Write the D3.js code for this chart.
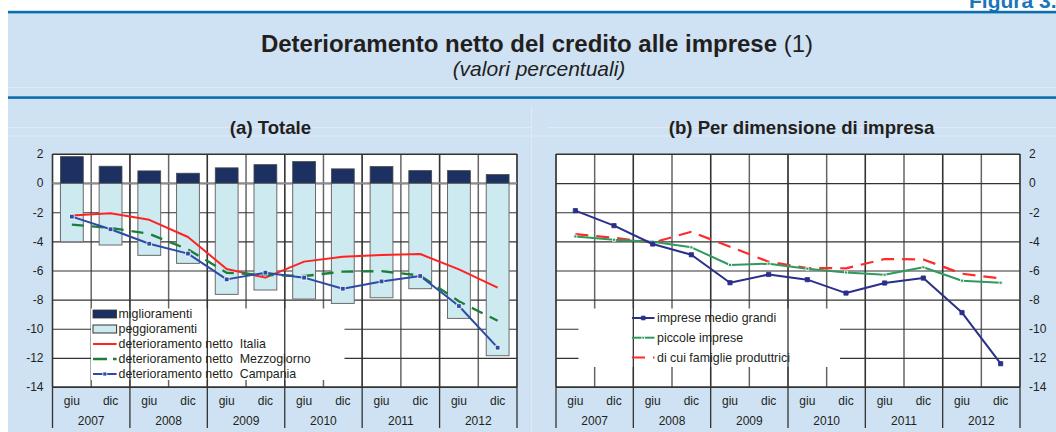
<!DOCTYPE html>
<html>
<head>
<meta charset="utf-8">
<script src="https://cdn.jsdelivr.net/npm/d3@7"></script>
<style>
  body { margin: 0; background: #fff; }
  svg { display: block; font-family: "Liberation Sans", Arial, sans-serif; }
</style>
</head>
<body>
<div id="chart"></div>
<script>
// --- data ---
var months = ["giu", "dic"];
var years = ["2007", "2008", "2009", "2010", "2011", "2012"];
var yTicks = [2, 0, -2, -4, -6, -8, -10, -12, -14];

// (a) Totale
var miglioramenti = [1.82, 1.16, 0.84, 0.68, 1.05, 1.27, 1.48, 0.98, 1.14, 0.86, 0.86, 0.59];
var peggioramenti = [-4.03, -4.25, -4.96, -5.51, -7.64, -7.34, -7.96, -8.26, -7.87, -7.25, -9.29, -11.85];
var italia = [-2.23, -2.07, -2.52, -3.70, -5.90, -6.49, -5.39, -5.05, -4.94, -4.87, -5.92, -7.18];
var mezzogiorno = [-2.85, -3.08, -3.48, -4.55, -6.15, -6.30, -6.38, -6.08, -6.04, -6.35, -8.12, -9.45];
var campania = [-2.30, -3.17, -4.16, -4.84, -6.61, -6.15, -6.49, -7.25, -6.75, -6.38, -8.44, -11.30];
var legendA = ["miglioramenti", "peggioramenti", "deterioramento netto  Italia",
               "deterioramento netto  Mezzogiorno", "deterioramento netto  Campania"];

// (b) Per dimensione di impresa
var medioGrandi = [-1.89, -2.92, -4.18, -4.92, -6.84, -6.27, -6.63, -7.55, -6.86, -6.52, -8.89, -12.40];
var piccole = [-3.66, -3.89, -4.02, -4.41, -5.62, -5.53, -5.88, -6.13, -6.29, -5.78, -6.70, -6.84];
var famiglie = [-3.50, -3.75, -4.09, -3.34, -4.37, -5.40, -5.83, -5.85, -5.21, -5.24, -6.22, -6.54];
var legendB = ["imprese medio grandi", "piccole imprese", "di cui famiglie produttrici"];

var periods = [];
years.forEach(function(y) { months.forEach(function(m) { periods.push(m + " " + y); }); });

var svgWidth = 1056;
var svgHeight = 432;
var plotTop = 154;
var plotBottom = 387;

var svg = d3.select("#chart")
    .append("svg")
    .attr("width", svgWidth)
    .attr("height", svgHeight);

// --- frame / header ---
svg.append("text")
    .attr("x", 969).attr("y", 8)
    .style("font-size", "21px").style("font-weight", "bold")
    .attr("fill", "#1b75b9")
    .text("Figura 3.");

svg.append("rect").attr("x", 8).attr("y", 13).attr("width", 1048).attr("height", 419).attr("fill", "#cfe2f3");
svg.append("rect").attr("x", 8).attr("y", 10.8).attr("width", 1048).attr("height", 2.6).attr("fill", "#0b6fae");
svg.append("rect").attr("x", 8).attr("y", 96.3).attr("width", 1048).attr("height", 2.6).attr("fill", "#0b6fae");

[87.5, 136].forEach(function(yy) {
  svg.append("line").attr("x1", 8).attr("x2", 1056).attr("y1", yy).attr("y2", yy)
      .attr("stroke", "#dfeaf6").attr("stroke-width", 1);
});
svg.append("line").attr("x1", 8).attr("x2", 531).attr("y1", 127.5).attr("y2", 127.5)
    .attr("stroke", "#dfeaf6").attr("stroke-width", 1);
svg.append("line").attr("x1", 548).attr("x2", 1056).attr("y1", 127.5).attr("y2", 127.5)
    .attr("stroke", "#dfeaf6").attr("stroke-width", 1);
svg.append("line").attr("x1", 531.5).attr("x2", 531.5).attr("y1", 106).attr("y2", 432)
    .attr("stroke", "#dfeaf6").attr("stroke-width", 1);

var title = svg.append("text")
    .attr("x", 537).attr("y", 52)
    .attr("text-anchor", "middle")
    .style("font-size", "24px")
    .attr("fill", "#231f20");
title.append("tspan").style("font-weight", "bold").text("Deterioramento netto del credito alle imprese ");
title.append("tspan").text("(1)");

svg.append("text")
    .attr("x", 539).attr("y", 75.5)
    .attr("text-anchor", "middle")
    .style("font-size", "21px").style("font-style", "italic")
    .attr("fill", "#231f20")
    .text("(valori percentuali)");

svg.append("text")
    .attr("x", 270.5).attr("y", 134)
    .attr("text-anchor", "middle")
    .style("font-size", "18.6px").style("font-weight", "bold")
    .attr("fill", "#231f20")
    .text("(a) Totale");

svg.append("text")
    .attr("x", 801.5).attr("y", 134)
    .attr("text-anchor", "middle")
    .style("font-size", "18.6px").style("font-weight", "bold")
    .attr("fill", "#231f20")
    .text("(b) Per dimensione di impresa");

var yScale = d3.scaleLinear().domain([-14, 2]).range([plotBottom, plotTop]);

// draws plot background, grid, axes; returns band scale
function drawPanel(x0, x1, side, legendBox) {
  var g = svg.append("g");
  var x = d3.scaleBand().domain(periods).range([x0, x1]).padding(0);

  g.append("rect")
      .attr("x", x0).attr("y", plotTop)
      .attr("width", x1 - x0).attr("height", plotBottom - plotTop)
      .attr("fill", "#fff");

  // vertical grid at band edges
  var edges = periods.map(function(p) { return x(p); }).concat([x1]);
  g.selectAll("line.vgrid").data(edges).enter().append("line")
      .attr("x1", d => d).attr("x2", d => d)
      .attr("y1", plotTop).attr("y2", plotBottom)
      .attr("stroke", "#666").attr("stroke-width", 1.5);

  // horizontal grid + tick labels through the axis
  var axis = side === "left" ? d3.axisLeft(yScale) : d3.axisRight(yScale);
  axis.tickValues(yTicks).tickSize(-(x1 - x0)).tickPadding(9).tickFormat(d3.format("d"));
  var ax = g.append("g")
      .attr("transform", `translate(${side === "left" ? x0 : x1},0)`)
      .call(axis);
  ax.select(".domain").remove();
  ax.selectAll(".tick line").attr("stroke", "#333").attr("stroke-width", 1.1);
  ax.selectAll(".tick text")
      .attr("fill", "#231f20")
      .style("font-size", "12px")
      .style("font-family", "'Liberation Sans', Arial, sans-serif")
      .text(d => String(d));

  // legend box hides the grid
  g.append("rect")
      .attr("x", legendBox[0]).attr("y", legendBox[1])
      .attr("width", legendBox[2]).attr("height", legendBox[3])
      .attr("fill", "#fff");

  // frame
  g.append("line").attr("x1", x0).attr("x2", x1).attr("y1", plotBottom).attr("y2", plotBottom)
      .attr("stroke", "#333").attr("stroke-width", 1.4);
  g.append("line").attr("x1", x0).attr("x2", x1).attr("y1", plotTop).attr("y2", plotTop)
      .attr("stroke", "#333").attr("stroke-width", 1.2);

  // category axis: month labels, year labels, year separators
  g.selectAll("text.month").data(periods).enter().append("text")
      .attr("x", d => x(d) + x.bandwidth() / 2)
      .attr("y", 405)
      .attr("text-anchor", "middle")
      .attr("fill", "#231f20")
      .style("font-size", "12px")
      .text(d => d.split(" ")[0]);

  g.selectAll("text.year").data(years).enter().append("text")
      .attr("x", d => x("dic " + d))
      .attr("y", 425)
      .attr("text-anchor", "middle")
      .attr("fill", "#231f20")
      .style("font-size", "12px")
      .text(d => d);

  var seps = years.map(function(yr) { return x("giu " + yr); }).concat([x1]);
  g.selectAll("line.sep").data(seps).enter().append("line")
      .attr("x1", d => d).attr("x2", d => d)
      .attr("y1", plotTop).attr("y2", 428)
      .attr("stroke", "#333").attr("stroke-width", 1.3);

  return x;
}

function drawLine(x, values, color, width, dash) {
  var line = d3.line()
      .x((d, i) => x(periods[i]) + x.bandwidth() / 2)
      .y(d => yScale(d));
  svg.append("path")
      .datum(values)
      .attr("d", line)
      .attr("fill", "none")
      .attr("stroke", color)
      .attr("stroke-width", width)
      .attr("stroke-dasharray", dash || null)
      .attr("stroke-linejoin", "round");
}

function drawMarkers(x, values, color, size, edge) {
  svg.selectAll(null).data(values).enter().append("path")
      .attr("d", d3.symbol(d3.symbolSquare, size))
      .attr("transform", (d, i) => `translate(${x(periods[i]) + x.bandwidth() / 2},${yScale(d)})`)
      .attr("fill", color)
      .attr("stroke", edge)
      .attr("stroke-width", 0.8);
}

// ---------- panel (a) ----------
var xa = drawPanel(52.5, 517, "left", [91, 308.5, 253.5, 71.5]);

// zero line
svg.append("line")
    .attr("x1", 52.5).attr("x2", 517)
    .attr("y1", yScale(0)).attr("y2", yScale(0))
    .attr("stroke", "#8c8c8c").attr("stroke-width", 2);

var barW = xa.bandwidth() * 0.59;
svg.selectAll("rect.peg").data(peggioramenti).enter().append("rect")
    .attr("x", (d, i) => xa(periods[i]) + (xa.bandwidth() - barW) / 2)
    .attr("y", yScale(0))
    .attr("width", barW)
    .attr("height", d => yScale(d) - yScale(0))
    .attr("fill", "#cdeaf0")
    .attr("stroke", "#6a6a6a").attr("stroke-width", 1);

svg.selectAll("rect.mig").data(miglioramenti).enter().append("rect")
    .attr("x", (d, i) => xa(periods[i]) + (xa.bandwidth() - barW) / 2)
    .attr("y", d => yScale(d))
    .attr("width", barW)
    .attr("height", d => yScale(0) - yScale(d))
    .attr("fill", "#1c3161")
    .attr("stroke", "#4a4a4a").attr("stroke-width", 0.8);

drawLine(xa, italia, "#ff2222", 2);
drawLine(xa, mezzogiorno, "#1b7f3b", 2.4, "12,8");
drawLine(xa, campania, "#2d4aa6", 2);
drawMarkers(xa, campania, "#2d4aa6", 22, "#fff");

// legend (a)
var lgA = svg.append("g").style("font-size", "12.4px").attr("fill", "#231f20");
var lax0 = 93, lax1 = 116.6, lay0 = 314, layStep = 15;
legendA.forEach(function(label, i) {
  var cy = lay0 + i * layStep;
  if (i === 0) {
    lgA.append("rect").attr("x", lax0).attr("y", cy - 4).attr("width", lax1 - lax0).attr("height", 8)
        .attr("fill", "#1c3161").attr("stroke", "#333").attr("stroke-width", 0.8);
  } else if (i === 1) {
    lgA.append("rect").attr("x", lax0).attr("y", cy - 4).attr("width", lax1 - lax0).attr("height", 8)
        .attr("fill", "#cdeaf0").attr("stroke", "#333").attr("stroke-width", 1);
  } else {
    var col = ["#ff2222", "#1b7f3b", "#2d4aa6"][i - 2];
    lgA.append("line").attr("x1", lax0).attr("x2", lax1).attr("y1", cy).attr("y2", cy)
        .attr("stroke", col).attr("stroke-width", i === 3 ? 2.4 : 2)
        .attr("stroke-dasharray", i === 3 ? "14,6" : null);
    if (i === 4) {
      lgA.append("path").attr("d", d3.symbol(d3.symbolSquare, 16))
          .attr("transform", `translate(${(lax0 + lax1) / 2},${cy})`)
          .attr("fill", col).attr("stroke", "#fff").attr("stroke-width", 0.8);
    }
  }
  lgA.append("text").attr("x", 118.5).attr("y", cy).attr("dy", "0.36em")
      .attr("xml:space", "preserve")
      .style("white-space", "pre")
      .text(label);
});

// ---------- panel (b) ----------
var xb = drawPanel(556, 1020, "right", [578.5, 308.5, 261.5, 58.5]);

drawLine(xb, famiglie, "#ff2a2a", 2.2, "13,8");
drawLine(xb, piccole, "#2e9a5e", 2);
drawMarkers(xb, piccole, "#2e9a5e", 9, "#fff");
drawLine(xb, medioGrandi, "#2a2f8a", 2);
drawMarkers(xb, medioGrandi, "#2a2f8a", 18, "#2a2f8a");

// legend (b)
var lgB = svg.append("g").style("font-size", "12.4px").attr("fill", "#231f20");
var lbx0 = 632, lbx1 = 654.5, lby0 = 318, lbyStep = 19.7;
var colB = ["#2a2f8a", "#2e9a5e", "#ff2a2a"];
legendB.forEach(function(label, i) {
  var cy = lby0 + i * lbyStep;
  lgB.append("line").attr("x1", lbx0).attr("x2", lbx1).attr("y1", cy).attr("y2", cy)
      .attr("stroke", colB[i]).attr("stroke-width", 2)
      .attr("stroke-dasharray", i === 2 ? "13,8" : null);
  if (i < 2) {
    lgB.append("path").attr("d", d3.symbol(d3.symbolSquare, i === 0 ? 14 : 7))
        .attr("transform", `translate(${(lbx0 + lbx1) / 2},${cy})`)
        .attr("fill", colB[i]).attr("stroke", i === 0 ? colB[i] : "#fff").attr("stroke-width", 0.8);
  }
  lgB.append("text").attr("x", 657).attr("y", cy).attr("dy", "0.36em").text(label);
});
</script>
</body>
</html>
